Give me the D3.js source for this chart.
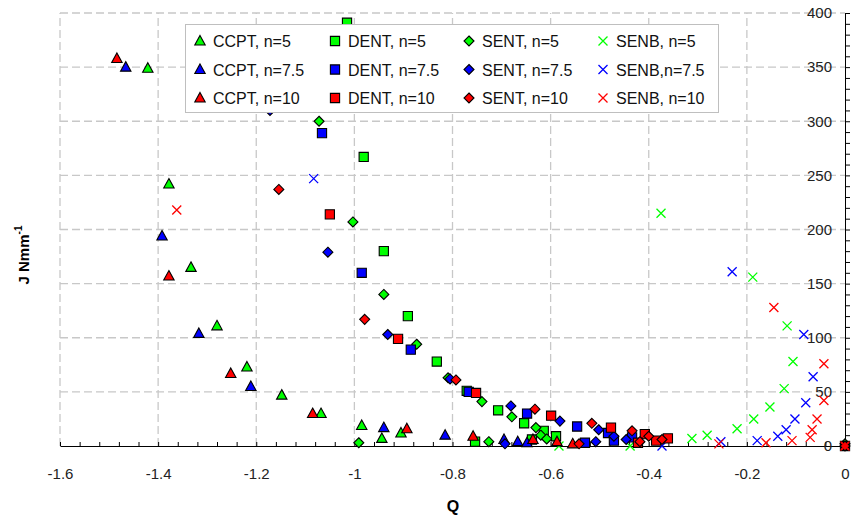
<!DOCTYPE html>
<html>
<head>
<meta charset="utf-8">
<script src="https://cdn.jsdelivr.net/npm/d3@7"></script>
<style>
  body { margin: 0; background: #fff; }
  text { font-family: "Liberation Sans", Arial, sans-serif; }
</style>
</head>
<body>
<svg id="chart" width="851" height="519"></svg>
<script>
// [Q, J] pairs
const ccpt5  = [[-1.421,349],[-1.378,242],[-1.333,165],[-1.280,111],[-1.219,73],[-1.148,47],[-1.068,30],[-0.985,19],[-0.944,7],[-0.905,12]];
const ccpt75 = [[-1.466,350],[-1.392,194],[-1.317,104],[-1.211,55],[-0.940,17],[-0.815,10],[-0.695,6],[-0.667,4],[-0.648,3]];
const ccpt10 = [[-1.484,358],[-1.378,157],[-1.252,67],[-1.085,30],[-0.893,16],[-0.758,9],[-0.636,6],[-0.587,4],[-0.555,2]];

const dent5  = [[-1.015,391],[-0.981,267],[-0.940,180],[-0.891,120],[-0.832,78],[-0.771,51],[-0.707,33],[-0.754,4],[-0.654,21],[-0.614,14],[-0.638,6],[-0.589,9]];
const dent75 = [[-1.066,289],[-0.985,160],[-0.885,89],[-0.767,50],[-0.648,30],[-0.546,18],[-0.483,12],[-0.471,5],[-0.530,3],[-0.434,8]];
const dent10 = [[-1.050,214],[-0.911,99],[-0.752,49],[-0.599,28],[-0.477,17],[-0.408,11],[-0.422,3],[-0.385,5],[-0.361,7],[0,0]];

const sent5  = [[-1.072,300],[-1.003,207],[-0.940,140],[-0.873,94],[-0.809,63],[-0.740,41],[-0.679,27],[-0.630,17],[-0.620,10],[-0.608,6.5],[-0.726,4],[-0.991,3],[0,2]];
const sent75 = [[-1.172,310],[-1.054,179],[-0.932,103],[-0.805,62],[-0.681,37],[-0.581,23],[-0.502,15],[-0.471,9],[-0.508,4],[-0.693,2],[-0.446,6]];
const sent10 = [[-1.154,237],[-0.979,117],[-0.793,61],[-0.632,34],[-0.516,21],[-0.542,2],[-0.434,14],[-0.418,4],[-0.400,9],[-0.373,6],[0,0]];

const senb5  = [[-0.375,215],[-0.188,156],[-0.118,111],[-0.106,78],[-0.124,53],[-0.153,36],[-0.186,25],[-0.220,16],[-0.281,10],[-0.312,7],[-0.583,0],[-0.438,0],[0,0]];
const senb75 = [[-1.083,247],[-0.230,161],[-0.084,103],[-0.065,64],[-0.080,40],[-0.102,25],[-0.120,15],[-0.137,9],[-0.179,5],[-0.253,4],[-0.373,0],[0,0]];
const senb10 = [[-1.362,218],[-0.145,128],[-0.043,76],[-0.043,42],[-0.057,25],[-0.067,15],[-0.071,8],[-0.108,5],[-0.161,3],[-0.257,2],[0,0]];

const xTicks = d3.range(0, 41).map(function(i){ return -1.6 + i * 0.04; });
const yTicks = d3.range(0, 41).map(function(i){ return i * 10; });

// series in legend order (row by row), which is also the drawing order
const series = [
  { name: "CCPT, n=5",   data: ccpt5,  shape: "tri", color: "#00ff00" },
  { name: "DENT, n=5",   data: dent5,  shape: "sq",  color: "#00ff00" },
  { name: "SENT, n=5",   data: sent5,  shape: "dia", color: "#00ff00" },
  { name: "SENB, n=5",   data: senb5,  shape: "x",   color: "#00ff00" },
  { name: "CCPT, n=7.5", data: ccpt75, shape: "tri", color: "#0000ff" },
  { name: "DENT, n=7.5", data: dent75, shape: "sq",  color: "#0000ff" },
  { name: "SENT, n=7.5", data: sent75, shape: "dia", color: "#0000ff" },
  { name: "SENB,n=7.5",  data: senb75, shape: "x",   color: "#0000ff" },
  { name: "CCPT, n=10",  data: ccpt10, shape: "tri", color: "#ff0000" },
  { name: "DENT, n=10",  data: dent10, shape: "sq",  color: "#ff0000" },
  { name: "SENT, n=10",  data: sent10, shape: "dia", color: "#ff0000" },
  { name: "SENB, n=10",  data: senb10, shape: "x",   color: "#ff0000" }
];

const svg = d3.select("#chart");
const x = d3.scaleLinear().domain([-1.6, 0]).range([60, 845]);
const y = d3.scaleLinear().domain([0, 400]).range([446, 13]);

// dashed grid
svg.append("g").selectAll("line")
  .data(d3.range(0, 8).map(function(i){ return -1.6 + i * 0.2; }))
  .enter().append("line")
  .attr("x1", function(d){ return x(d); }).attr("x2", function(d){ return x(d); })
  .attr("y1", y(0)).attr("y2", y(400))
  .attr("stroke", "#c8c8c8").attr("stroke-width", 1.3).attr("stroke-dasharray", "8,4");
svg.append("g").selectAll("line")
  .data(d3.range(1, 9).map(function(i){ return i * 50; }))
  .enter().append("line")
  .attr("x1", x(-1.6)).attr("x2", x(0))
  .attr("y1", function(d){ return y(d); }).attr("y2", function(d){ return y(d); })
  .attr("stroke", "#c8c8c8").attr("stroke-width", 1.3).attr("stroke-dasharray", "8,4");

// axes
const xAxis = d3.axisBottom(x)
  .tickValues(xTicks)
  .tickSizeInner(-4).tickSizeOuter(0).tickPadding(22)
  .tickFormat(function(d, i){ return i % 5 === 0 ? String(Math.round(d * 10) / 10) : ""; });
const gx = svg.append("g").attr("transform", "translate(0," + y(0) + ")").call(xAxis);

const yAxis = d3.axisLeft(y)
  .tickValues(yTicks)
  .tickSizeInner(-5).tickSizeOuter(0).tickPadding(13)
  .tickFormat(function(d){ return d % 50 === 0 ? d : ""; });
const gy = svg.append("g").attr("transform", "translate(" + x(0) + ",0)").call(yAxis);

[gx, gy].forEach(function(g){
  g.select(".domain").attr("stroke", "#000");
  g.selectAll(".tick line").attr("stroke", "#000");
  g.selectAll(".tick text").attr("font-size", 15).attr("fill", "#222")
    .attr("font-family", "'Liberation Sans', Arial, sans-serif");
});

// axis titles
svg.append("text").attr("x", 453).attr("y", 512)
  .attr("text-anchor", "middle").attr("font-size", 16).attr("font-weight", "bold")
  .text("Q");
const yl = svg.append("text")
  .attr("transform", "translate(29,255) rotate(-90)")
  .attr("text-anchor", "middle").attr("font-size", 15).attr("font-weight", "bold");
yl.append("tspan").text("J Nmm");
yl.append("tspan").attr("dy", -7).attr("font-size", 10).text("-1");

// markers
function symbolPath(shape) {
  if (shape === "tri") return "M0,-5.5L5.2,4L-5.2,4Z";
  if (shape === "sq") return "M-4.6,-4.6H4.6V4.6H-4.6Z";
  if (shape === "dia") return "M0,-5L5,0L0,5L-5,0Z";
  return "M-4.5,-4.5L4.5,4.5M4.5,-4.5L-4.5,4.5";
}

function drawMarker(g, shape, color) {
  if (shape === "x") {
    g.append("path").attr("d", symbolPath(shape))
      .attr("fill", "none").attr("stroke", color).attr("stroke-width", 1.3);
  } else {
    g.append("path").attr("d", symbolPath(shape))
      .attr("fill", color).attr("stroke", "#000").attr("stroke-width", 1.1);
  }
}

series.forEach(function(s){
  svg.append("g").selectAll("g")
    .data(s.data)
    .enter().append("g")
    .attr("transform", function(d){ return "translate(" + x(d[0]) + "," + y(d[1]) + ")"; })
    .each(function(){ drawMarker(d3.select(this), s.shape, s.color); });
});

// legend
const lg = svg.append("g");
lg.append("rect").attr("x", 185.5).attr("y", 24.5).attr("width", 533).attr("height", 88)
  .attr("fill", "#fff").attr("stroke", "#bfbfbf");
const colX = [200, 335, 469, 603];
const rowY = [41, 69.5, 98];
series.forEach(function(s, i){
  const cx = colX[i % 4], cy = rowY[Math.floor(i / 4)];
  const item = lg.append("g").attr("transform", "translate(" + cx + "," + cy + ")");
  drawMarker(item, s.shape, s.color);
  item.append("text").attr("x", 13).attr("y", 6)
    .attr("font-size", 16).attr("fill", "#111").text(s.name);
});
</script>
</body>
</html>
